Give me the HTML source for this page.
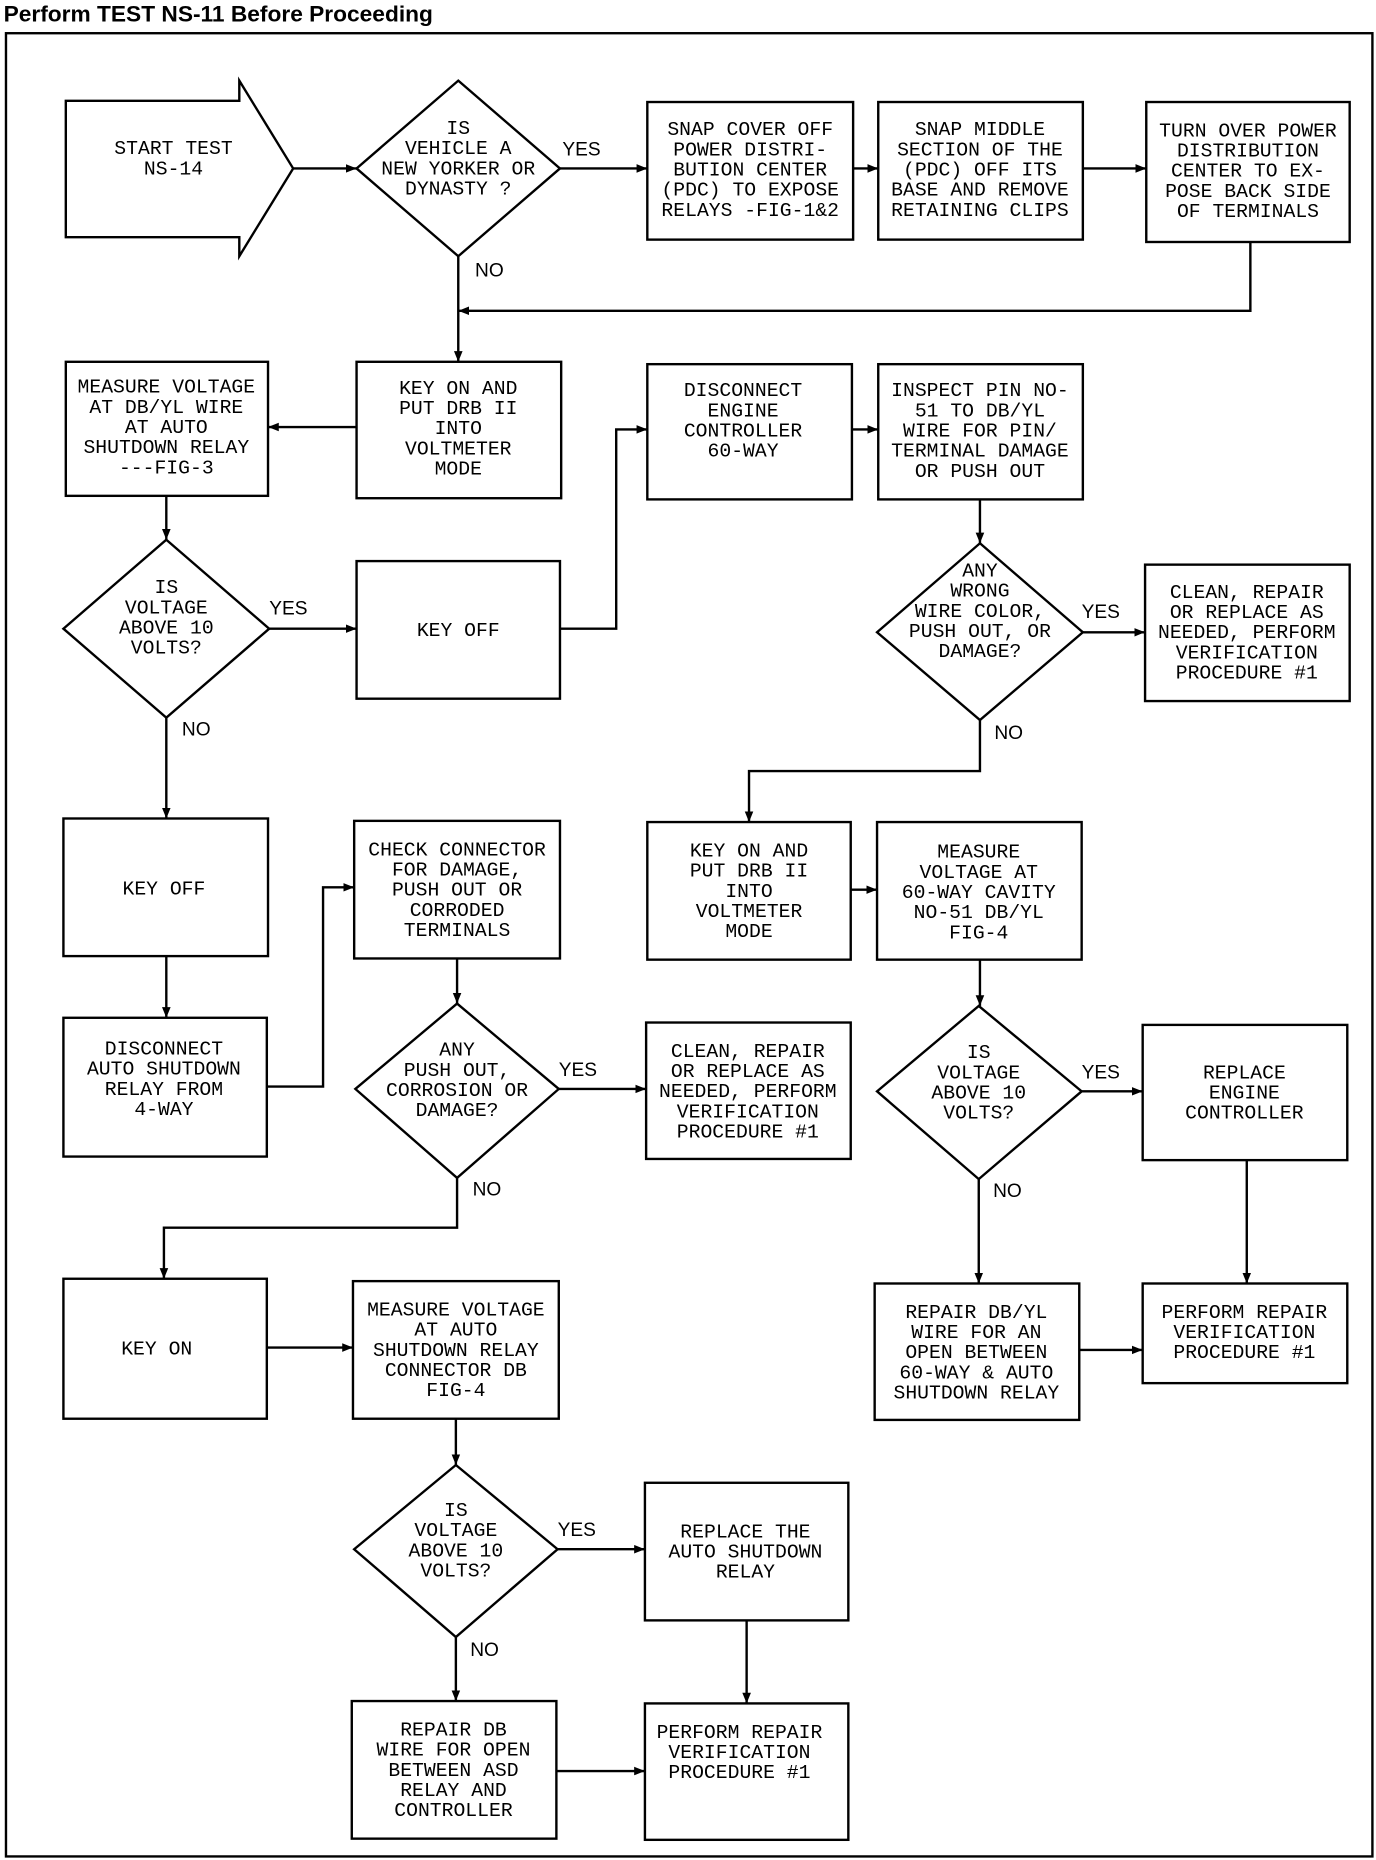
<!DOCTYPE html>
<html><head><meta charset="utf-8"><style>
html,body{margin:0;padding:0;background:#fff;}
svg{display:block}
text{font-family:"Liberation Mono",monospace;font-size:16.5px;fill:#000;text-anchor:middle}
.l{font-family:"Liberation Sans",sans-serif;font-size:16px}
.t{font-family:"Liberation Sans",sans-serif;font-weight:bold;font-size:19px;text-anchor:start}
</style></head><body>
<svg width="1376" height="1860" viewBox="0 0 1150 1568" preserveAspectRatio="none" xmlns="http://www.w3.org/2000/svg">
<defs><marker id="a" viewBox="0 0 10 10" refX="10" refY="5" markerWidth="9" markerHeight="9" markerUnits="userSpaceOnUse" orient="auto"><path d="M0,1 L10,5 L0,9 z" fill="#000"/></marker></defs>
<text class="t" x="3" y="18">Perform TEST NS-11 Before Proceeding</text>
<g fill="none" stroke="#000" stroke-width="2">
<rect x="5" y="28" width="1142" height="1537"/>
<path d="M55,85 H200 V68 L245,142 L200,216 V200 H55 Z"/>
<path d="M383,68 L468,142 L383,216 L298,142 Z"/>
<path d="M139,455 L225,530 L139,605 L53,530 Z"/>
<path d="M819,458 L905,533 L819,607 L733,533 Z"/>
<path d="M818,848 L904,920 L818,994 L733,920 Z"/>
<path d="M382,846 L467,918 L382,993 L297,918 Z"/>
<path d="M381,1235 L466,1306 L381,1380 L296,1306 Z"/>
<rect x="541" y="86" width="172" height="116"/>
<rect x="734" y="86" width="171" height="116"/>
<rect x="958" y="86" width="170" height="118"/>
<rect x="298" y="305" width="171" height="115"/>
<rect x="55" y="305" width="169" height="113"/>
<rect x="298" y="473" width="170" height="116"/>
<rect x="541" y="307" width="171" height="114"/>
<rect x="734" y="307" width="171" height="114"/>
<rect x="957" y="476" width="171" height="115"/>
<rect x="541" y="693" width="170" height="116"/>
<rect x="733" y="693" width="171" height="116"/>
<rect x="955" y="864" width="171" height="114"/>
<rect x="955" y="1082" width="171" height="84"/>
<rect x="731" y="1082" width="171" height="115"/>
<rect x="53" y="690" width="171" height="116"/>
<rect x="53" y="858" width="170" height="117"/>
<rect x="296" y="692" width="172" height="116"/>
<rect x="540" y="862" width="171" height="115"/>
<rect x="53" y="1078" width="170" height="118"/>
<rect x="295" y="1080" width="172" height="116"/>
<rect x="539" y="1250" width="170" height="116"/>
<rect x="539" y="1436" width="170" height="115"/>
<rect x="294" y="1434" width="171" height="116"/>
</g>
<g fill="none" stroke="#000" stroke-width="2" marker-end="url(#a)">
<path d="M245,142 H298"/>
<path d="M468,142 H541"/>
<path d="M713,142 H734"/>
<path d="M905,142 H958"/>
<path d="M1045,204 V262 H383"/>
<path d="M383,216 V305"/>
<path d="M298,360 H224"/>
<path d="M139,418 V455"/>
<path d="M225,530 H298"/>
<path d="M468,530 H515 V362 H541"/>
<path d="M712,362 H734"/>
<path d="M819,421 V458"/>
<path d="M905,533 H957"/>
<path d="M819,607 V650 H626 V693"/>
<path d="M711,750 H733"/>
<path d="M819,809 V848"/>
<path d="M904,920 H955"/>
<path d="M1042,978 V1082"/>
<path d="M818,994 V1082"/>
<path d="M902,1138 H955"/>
<path d="M139,605 V690"/>
<path d="M139,806 V858"/>
<path d="M223,916 H270 V748 H296"/>
<path d="M382,808 V846"/>
<path d="M467,918 H540"/>
<path d="M382,993 V1035 H137 V1078"/>
<path d="M223,1136 H295"/>
<path d="M381,1196 V1235"/>
<path d="M466,1306 H539"/>
<path d="M624,1366 V1436"/>
<path d="M381,1380 V1434"/>
<path d="M465,1493 H539"/>
</g>
<g class="lab">
<text class="l" x="486" y="131">YES</text>
<text class="l" x="409" y="233">NO</text>
<text class="l" x="241" y="518">YES</text>
<text class="l" x="920" y="521">YES</text>
<text class="l" x="843" y="623">NO</text>
<text class="l" x="164" y="620">NO</text>
<text class="l" x="920" y="909">YES</text>
<text class="l" x="842" y="1009">NO</text>
<text class="l" x="483" y="907">YES</text>
<text class="l" x="407" y="1008">NO</text>
<text class="l" x="482" y="1295">YES</text>
<text class="l" x="405" y="1396">NO</text>
</g>
<text x="145" y="130"><tspan x="145">START TEST</tspan><tspan x="145" dy="17">NS-14</tspan></text>
<text y="113"><tspan x="383">IS</tspan><tspan x="383" dy="17">VEHICLE A</tspan><tspan x="383" dy="17">NEW YORKER OR</tspan><tspan x="383" dy="17">DYNASTY ?</tspan></text>
<text y="114"><tspan x="627">SNAP COVER OFF</tspan><tspan x="627" dy="17">POWER DISTRI-</tspan><tspan x="627" dy="17">BUTION CENTER</tspan><tspan x="627" dy="17">(PDC) TO EXPOSE</tspan><tspan x="627" dy="17">RELAYS -FIG-1&amp;2</tspan></text>
<text y="114"><tspan x="819">SNAP MIDDLE</tspan><tspan x="819" dy="17">SECTION OF THE</tspan><tspan x="819" dy="17">(PDC) OFF ITS</tspan><tspan x="819" dy="17">BASE AND REMOVE</tspan><tspan x="819" dy="17">RETAINING CLIPS</tspan></text>
<text y="115"><tspan x="1043">TURN OVER POWER</tspan><tspan x="1043" dy="17">DISTRIBUTION</tspan><tspan x="1043" dy="17">CENTER TO EX-</tspan><tspan x="1043" dy="17">POSE BACK SIDE</tspan><tspan x="1043" dy="17">OF TERMINALS</tspan></text>
<text y="332"><tspan x="383">KEY ON AND</tspan><tspan x="383" dy="17">PUT DRB II</tspan><tspan x="383" dy="17">INTO</tspan><tspan x="383" dy="17">VOLTMETER</tspan><tspan x="383" dy="17">MODE</tspan></text>
<text y="331"><tspan x="139">MEASURE VOLTAGE</tspan><tspan x="139" dy="17">AT DB/YL WIRE</tspan><tspan x="139" dy="17">AT AUTO</tspan><tspan x="139" dy="17">SHUTDOWN RELAY</tspan><tspan x="139" dy="17">---FIG-3</tspan></text>
<text y="500"><tspan x="139">IS</tspan><tspan x="139" dy="17">VOLTAGE</tspan><tspan x="139" dy="17">ABOVE 10</tspan><tspan x="139" dy="17">VOLTS?</tspan></text>
<text x="383" y="536">KEY OFF</text>
<text y="334"><tspan x="621">DISCONNECT</tspan><tspan x="621" dy="17">ENGINE</tspan><tspan x="621" dy="17">CONTROLLER</tspan><tspan x="621" dy="17">60-WAY</tspan></text>
<text y="334"><tspan x="819">INSPECT PIN NO-</tspan><tspan x="819" dy="17">51 TO DB/YL</tspan><tspan x="819" dy="17">WIRE FOR PIN/</tspan><tspan x="819" dy="17">TERMINAL DAMAGE</tspan><tspan x="819" dy="17">OR PUSH OUT</tspan></text>
<text y="486"><tspan x="819">ANY</tspan><tspan x="819" dy="17">WRONG</tspan><tspan x="819" dy="17">WIRE COLOR,</tspan><tspan x="819" dy="17">PUSH OUT, OR</tspan><tspan x="819" dy="17">DAMAGE?</tspan></text>
<text y="504"><tspan x="1042">CLEAN, REPAIR</tspan><tspan x="1042" dy="17">OR REPLACE AS</tspan><tspan x="1042" dy="17">NEEDED, PERFORM</tspan><tspan x="1042" dy="17">VERIFICATION</tspan><tspan x="1042" dy="17">PROCEDURE #1</tspan></text>
<text x="137" y="754">KEY OFF</text>
<text y="722"><tspan x="626">KEY ON AND</tspan><tspan x="626" dy="17">PUT DRB II</tspan><tspan x="626" dy="17">INTO</tspan><tspan x="626" dy="17">VOLTMETER</tspan><tspan x="626" dy="17">MODE</tspan></text>
<text y="723"><tspan x="818">MEASURE</tspan><tspan x="818" dy="17">VOLTAGE AT</tspan><tspan x="818" dy="17">60-WAY CAVITY</tspan><tspan x="818" dy="17">NO-51 DB/YL</tspan><tspan x="818" dy="17">FIG-4</tspan></text>
<text y="889"><tspan x="137">DISCONNECT</tspan><tspan x="137" dy="17">AUTO SHUTDOWN</tspan><tspan x="137" dy="17">RELAY FROM</tspan><tspan x="137" dy="17">4-WAY</tspan></text>
<text y="721"><tspan x="382">CHECK CONNECTOR</tspan><tspan x="382" dy="17">FOR DAMAGE,</tspan><tspan x="382" dy="17">PUSH OUT OR</tspan><tspan x="382" dy="17">CORRODED</tspan><tspan x="382" dy="17">TERMINALS</tspan></text>
<text y="890"><tspan x="382">ANY</tspan><tspan x="382" dy="17">PUSH OUT,</tspan><tspan x="382" dy="17">CORROSION OR</tspan><tspan x="382" dy="17">DAMAGE?</tspan></text>
<text y="891"><tspan x="625">CLEAN, REPAIR</tspan><tspan x="625" dy="17">OR REPLACE AS</tspan><tspan x="625" dy="17">NEEDED, PERFORM</tspan><tspan x="625" dy="17">VERIFICATION</tspan><tspan x="625" dy="17">PROCEDURE #1</tspan></text>
<text y="892"><tspan x="818">IS</tspan><tspan x="818" dy="17">VOLTAGE</tspan><tspan x="818" dy="17">ABOVE 10</tspan><tspan x="818" dy="17">VOLTS?</tspan></text>
<text y="909"><tspan x="1040">REPLACE</tspan><tspan x="1040" dy="17">ENGINE</tspan><tspan x="1040" dy="17">CONTROLLER</tspan></text>
<text x="131" y="1142">KEY ON</text>
<text y="1109"><tspan x="381">MEASURE VOLTAGE</tspan><tspan x="381" dy="17">AT AUTO</tspan><tspan x="381" dy="17">SHUTDOWN RELAY</tspan><tspan x="381" dy="17">CONNECTOR DB</tspan><tspan x="381" dy="17">FIG-4</tspan></text>
<text y="1111"><tspan x="816">REPAIR DB/YL</tspan><tspan x="816" dy="17">WIRE FOR AN</tspan><tspan x="816" dy="17">OPEN BETWEEN</tspan><tspan x="816" dy="17">60-WAY &amp; AUTO</tspan><tspan x="816" dy="17">SHUTDOWN RELAY</tspan></text>
<text y="1111"><tspan x="1040">PERFORM REPAIR</tspan><tspan x="1040" dy="17">VERIFICATION</tspan><tspan x="1040" dy="17">PROCEDURE #1</tspan></text>
<text y="1278"><tspan x="381">IS</tspan><tspan x="381" dy="17">VOLTAGE</tspan><tspan x="381" dy="17">ABOVE 10</tspan><tspan x="381" dy="17">VOLTS?</tspan></text>
<text y="1296"><tspan x="623">REPLACE THE</tspan><tspan x="623" dy="17">AUTO SHUTDOWN</tspan><tspan x="623" dy="17">RELAY</tspan></text>
<text y="1465"><tspan x="618">PERFORM REPAIR</tspan><tspan x="618" dy="17">VERIFICATION</tspan><tspan x="618" dy="17">PROCEDURE #1</tspan></text>
<text y="1463"><tspan x="379">REPAIR DB</tspan><tspan x="379" dy="17">WIRE FOR OPEN</tspan><tspan x="379" dy="17">BETWEEN ASD</tspan><tspan x="379" dy="17">RELAY AND</tspan><tspan x="379" dy="17">CONTROLLER</tspan></text>
</svg>
</body></html>
